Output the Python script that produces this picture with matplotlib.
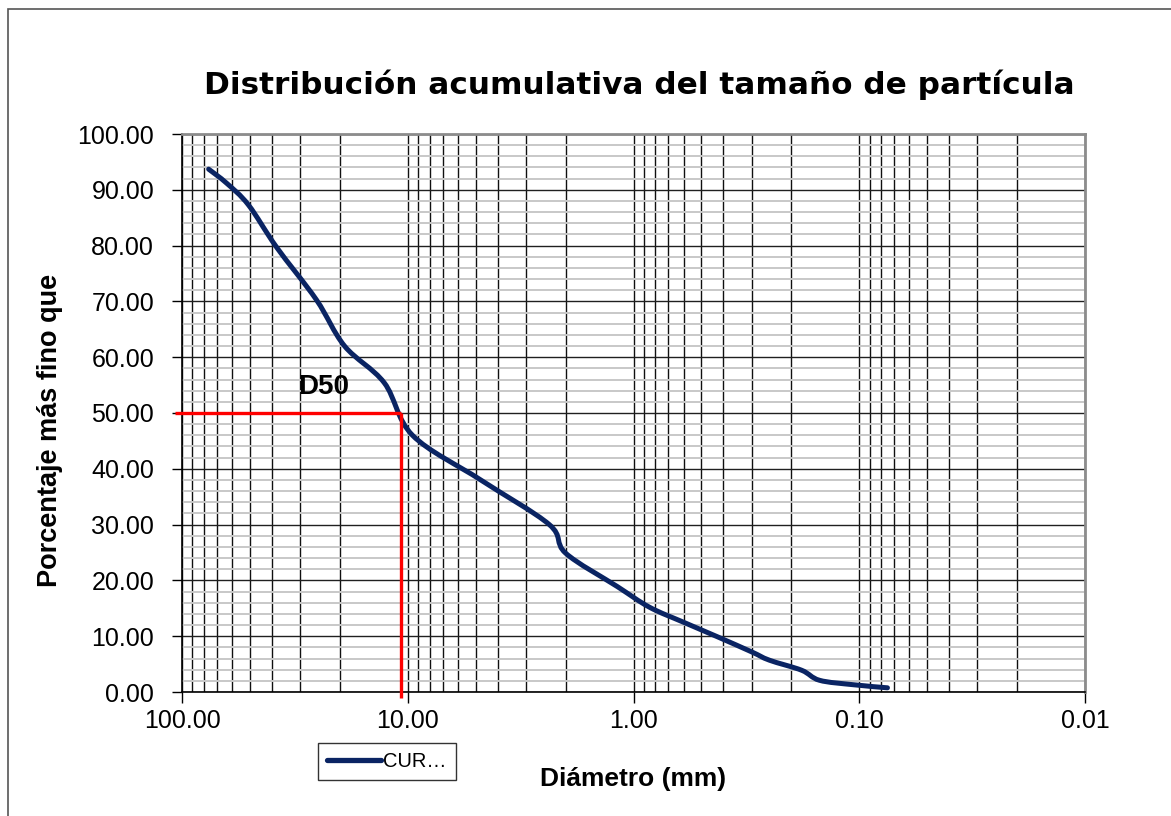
import numpy as np
import matplotlib
matplotlib.use("Agg")
import matplotlib.pyplot as plt
from matplotlib.path import Path
from matplotlib.patches import PathPatch, Rectangle
from matplotlib.lines import Line2D
from matplotlib.ticker import FixedLocator, FormatStrFormatter, LogLocator

# ---- data ----
diametro = [76.2, 63.5, 50.8, 38.1, 25.4, 19.05, 12.7, 9.525, 4.75, 2.36, 2.0,
            1.18, 0.85, 0.6, 0.425, 0.3, 0.25, 0.18, 0.15, 0.106, 0.075]
porcentaje = [93.7, 91.2, 87.3, 79.7, 70.3, 62.0, 55.4, 46.0, 38.0, 30.0, 24.9,
              18.9, 15.2, 12.5, 9.9, 7.2, 5.7, 3.9, 2.1, 1.3, 0.75]
x_ticks = [100, 10, 1, 0.1, 0.01]
y_ticks = [0, 10, 20, 30, 40, 50, 60, 70, 80, 90, 100]
titulo = "Distribución acumulativa del tamaño de partícula"
xlabel = "Diámetro (mm)"
ylabel = "Porcentaje más fino que"
serie = "CUR…"
d50_level = 50

plt.rcParams['font.family'] = ['Liberation Sans', 'DejaVu Sans']

W, H = 1171, 816
fig = plt.figure(figsize=(W / 100, H / 100), dpi=100)
ax = fig.add_axes([182 / W, 1 - 692 / H, (1085 - 182) / W, (692 - 134) / H])

ax.set_xscale('log')
ax.set_xlim(100, 0.01)
ax.set_ylim(0, 100)

# grid
ax.xaxis.set_major_locator(FixedLocator(x_ticks))
ax.xaxis.set_minor_locator(LogLocator(base=10, subs=np.arange(2, 10)))
ax.yaxis.set_major_locator(FixedLocator(y_ticks))
ax.yaxis.set_minor_locator(FixedLocator(np.arange(0, 101, 2)))
ax.xaxis.set_major_formatter(FormatStrFormatter('%.2f'))
ax.yaxis.set_major_formatter(FormatStrFormatter('%.2f'))
ax.xaxis.set_minor_formatter(plt.NullFormatter())

ax.grid(which='minor', axis='y', color='#c8c8c8', lw=1.4, zorder=0)
ax.grid(which='major', axis='y', color='#202020', lw=1.0, zorder=0.5)
ax.grid(which='both', axis='x', color='#101010', lw=1.0, zorder=0.5)
ax.set_axisbelow(True)

ax.tick_params(which='minor', length=0)
ax.tick_params(axis='y', which='major', direction='out', length=7, width=1,
               pad=13, labelsize=18)
ax.tick_params(axis='x', which='major', direction='out', length=8, width=1,
               pad=4, labelsize=18)

for s in ['top', 'right']:
    ax.spines[s].set_color('#8c8c8c')
    ax.spines[s].set_linewidth(2)
for s in ['left', 'bottom']:
    ax.spines[s].set_color('#000000')
    ax.spines[s].set_linewidth(1.2)

# smooth curve (Catmull-Rom Bezier in log-x space)
lx = np.log10(np.array(diametro))
yy = np.array(porcentaje)
P = np.column_stack([lx, yy])
Pext = np.vstack([P[0], P, P[-1]])
verts = [P[0]]
codes = [Path.MOVETO]
for i in range(len(P) - 1):
    p0, p1, p2, p3 = Pext[i], Pext[i + 1], Pext[i + 2], Pext[i + 3]
    c1 = p1 + (p2 - p0) / 6.0
    c2 = p2 - (p3 - p1) / 6.0
    verts += [c1, c2, p2]
    codes += [Path.CURVE4] * 3
verts = np.array(verts)
verts[:, 0] = 10 ** verts[:, 0]
curve_color = '#0a2463'
patch = PathPatch(Path(verts, codes), fill=False, edgecolor=curve_color, lw=3.6,
                  capstyle='round', joinstyle='round', zorder=3)
ax.add_patch(patch)

# D50
order = np.argsort(yy)
d50 = 10 ** np.interp(d50_level, yy[order], lx[order])
ax.hlines(d50_level, xmin=107, xmax=d50, colors='#ff0000', lw=2.4, zorder=4,
          clip_on=False)
ax.vlines(d50, ymin=-1.0, ymax=d50_level, colors='#ff0000', lw=2.4, zorder=4,
          clip_on=False)
ax.text(d50 * 2.2, d50_level + 2.3, 'D50', ha='center', va='bottom',
        fontsize=20, fontweight='bold', zorder=5)

# labels
ax.set_xlabel(xlabel, fontsize=19, fontweight='bold')
ax.set_ylabel(ylabel, fontsize=19.5, fontweight='bold')
ax.xaxis.set_label_coords((633 - 182) / 903, (692 - 767) / 558)
ax.yaxis.set_label_coords((63 - 182) / 903, (692 - 430) / 558)

fig.text(639 / W, 1 - 85 / H, titulo, ha='center', va='center',
         fontsize=22.4, fontweight='heavy', family=['DejaVu Sans'])

# legend
handle = Line2D([], [], color=curve_color, lw=3.8, solid_capstyle='round')
leg = fig.legend([handle], [serie], loc='upper left',
                 bbox_to_anchor=(318 / W, 1 - 743 / H), borderaxespad=0,
                 fontsize=14.5, frameon=True, fancybox=False, edgecolor='black',
                 handlelength=2.7, handletextpad=0.1, borderpad=0.45)
leg.get_frame().set_linewidth(1.0)

# outer border of the chart area
fig.patches.append(Rectangle((8 / W, -0.1), 1.2, 1 - 9 / H + 0.1,
                             transform=fig.transFigure, fill=False,
                             edgecolor='#555555', lw=1.2))

fig.savefig('out.png', dpi=100)
